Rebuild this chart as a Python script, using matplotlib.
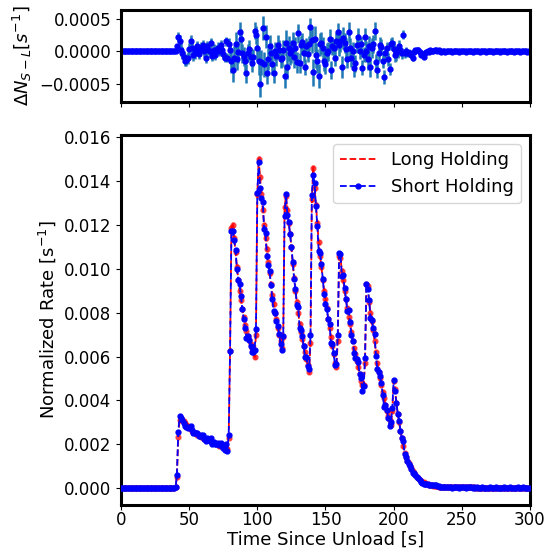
import numpy as np
import matplotlib
matplotlib.use("Agg")
import matplotlib.pyplot as plt

# time bins [s]
t = np.arange(0, 300)

# long-holding normalized rate, in units of 1e-5 s^-1, one value per second
long_e5 = (
    [0] * 40
    # 40 - 79
    + [3, 50, 235, 312, 318, 312, 305, 298, 290, 282,
       274, 268, 259, 257, 252, 250, 244, 240, 237, 234,
       231, 226, 225, 222, 219, 216, 215, 210, 207, 204,
       201, 199, 194, 194, 191, 189, 184, 185, 180, 230]
    # 80 - 119
    + [625, 1185, 1200, 1140, 1075, 1010, 950, 900, 858, 818,
       780, 745, 718, 695, 673, 655, 640, 628, 598, 700,
       1340, 1500, 1420, 1340, 1270, 1200, 1140, 1090, 1030, 980,
       930, 880, 840, 800, 770, 730, 700, 670, 640, 690]
    # 120 - 159
    + [1280, 1330, 1270, 1210, 1160, 1100, 1020, 960, 900, 850,
       800, 750, 710, 680, 650, 620, 590, 560, 530, 660,
       1320, 1460, 1370, 1290, 1210, 1120, 1060, 1010, 950, 900,
       860, 820, 770, 730, 690, 650, 610, 570, 550, 670]
    # 160 - 199
    + [1060, 1050, 990, 950, 900, 860, 820, 780, 750, 710,
       670, 640, 610, 580, 550, 520, 490, 470, 470, 570,
       930, 920, 850, 800, 760, 720, 670, 620, 570, 530,
       500, 470, 440, 410, 380, 350, 330, 310, 290, 350]
    # 200 - 239
    + [490, 450, 390, 340, 300, 260, 230, 190, 160, 140,
       125, 113, 102, 90, 78, 68, 58, 50, 44, 38,
       33, 29, 26, 23, 20, 18, 16, 14, 12, 11,
       10, 9, 8, 7, 6, 6, 5, 5, 4, 4]
    + [3] * 20 + [2] * 40
)

# short minus long, in units of 1e-5 s^-1
diff_e5 = (
    [0] * 40
    # 40 - 79
    + [0, 8, 22, 16, 3, -2, -8, -14, -13, -10,
       4, 16, 6, -5, -2, 3, 8, -4, 2, 6,
       10, 0, -10, 8, 2, 0, 13, -7, 3, -5,
       2, 6, 1, 10, 3, -4, -10, 16, -10, 12]
    # 80 - 119
    + [2, -14, -28, -10, 12, -12, -1, 30, 19, -3,
       -8, -15, -34, -3, 4, -8, -18, -9, 32, 25,
       6, -15, -50, -17, 36, -20, 23, -33, -12, 8,
       -3, -20, -33, 0, -7, 10, 3, -12, -10, 3]
    # 120 - 159
    + [-38, 13, -24, 5, -3, 0, 13, -8, 6, -17,
       28, -18, 10, 15, -2, -24, 8, -4, 12, 37,
       18, -32, 19, -6, -15, -38, 11, 13, 5, -14,
       -19, -2, 0, 19, -29, 8, 5, -10, 16, 30]
    # 160 - 199
    + [10, 16, -24, 21, 13, 4, -11, 30, 6, -10,
       0, -25, -18, 10, 23, 0, 11, -25, -5, 23,
       0, -12, 8, -24, 5, 11, 32, -17, -28, -2,
       10, 7, -14, -40, -3, 5, -12, -27, 11, 13]
    # 200 - 239
    + [4, -6, -3, 0, 8, 2, -3, 26, -3, 1,
       -3, -2, -3, -5, -10, -1, 2, 2, 3, -1,
       -6, -4, -8, -3, -1, 1, -1, 2, 0, 1,
       2, 3, 1, 3, 0, -1, 1, 0, -1, 1]
    + [0, 1, 0, -1, 0, 1, 0, 0, -1, 0] * 6
)

# uncertainty of the difference, in units of 1e-5 s^-1
err_e5 = (
    [1] * 40
    + [1, 4, 8, 10, 10, 9, 9, 9, 9, 9,
       9, 9, 9, 9, 9, 8, 8, 8, 8, 8,
       8, 8, 8, 8, 8, 8, 8, 8, 8, 8,
       8, 8, 8, 7, 7, 7, 7, 7, 7, 8]
    + [13, 19, 19, 18, 18, 17, 17, 16, 16, 15,
       15, 15, 14, 14, 14, 14, 14, 13, 13, 14,
       20, 21, 20, 20, 19, 19, 18, 18, 17, 17,
       16, 16, 16, 15, 15, 15, 14, 14, 14, 14]
    + [19, 20, 19, 19, 18, 18, 17, 17, 16, 16,
       15, 15, 14, 14, 14, 13, 13, 13, 12, 14,
       20, 21, 20, 19, 19, 18, 18, 17, 17, 16,
       16, 15, 15, 15, 14, 14, 13, 13, 13, 14]
    + [17, 17, 17, 17, 16, 16, 15, 15, 15, 14,
       14, 14, 13, 13, 13, 12, 12, 12, 12, 13,
       16, 16, 16, 15, 15, 14, 14, 13, 13, 12,
       12, 12, 11, 11, 10, 10, 10, 9, 9, 10]
    + [12, 11, 11, 10, 9, 9, 8, 7, 7, 6,
       6, 6, 5, 5, 5, 4, 4, 4, 4, 3,
       3, 3, 3, 3, 2, 2, 2, 2, 2, 2,
       2, 2, 2, 1, 1, 1, 1, 1, 1, 1]
    + [1] * 60
)

rate_long = np.array(long_e5) * 1e-5
diff = np.array(diff_e5) * 1e-5
diff_err = np.array(err_e5) * 1e-5
rate_short = rate_long + diff
err_long = diff_err * 0.7

fig = plt.figure(figsize=(5.47, 5.51), dpi=100)
ax_top = fig.add_axes([0.2212, 0.8149, 0.7477, 0.1670])
ax = fig.add_axes([0.2212, 0.0835, 0.7477, 0.6715], sharex=ax_top)

# top: difference
ax_top.errorbar(t, diff, yerr=diff_err, fmt=".", color="blue", ms=7,
                ecolor="tab:blue", elinewidth=1.8)
ax_top.set_ylim(-0.00078, 0.00064)
ax_top.set_yticks([-0.0005, 0.0, 0.0005])
ax_top.set_ylabel(r"$\Delta N_{S-L} [s^{-1}]$", fontsize=13)
ax_top.tick_params(labelbottom=False, labelsize=12)

# bottom: both rates
ax.errorbar(t, rate_long, yerr=err_long, fmt="none", ecolor="red",
            elinewidth=1.8, alpha=0.6, zorder=1)
ax.plot(t, rate_long, ".", color="red", ms=7, alpha=0.6, zorder=1)
ax.plot(t, rate_long, "--", color="red", lw=1.3, label="Long Holding",
        zorder=2)
ax.plot(t, rate_short, "--", color="blue", marker=".", ms=7, lw=1.3,
        label="Short Holding", zorder=3)
ax.set_xlim(0, 300)
ax.set_ylim(-0.00077, 0.0161)
ax.set_yticks(np.arange(0, 0.0161, 0.002))
ax.set_xlabel("Time Since Unload [s]", fontsize=13, labelpad=1)
ax.set_ylabel(r"Normalized Rate [s$^{-1}$]", fontsize=13)
ax.tick_params(labelsize=12)
ax.tick_params(axis="x", pad=1)
ax.legend(loc="upper right", fontsize=13)

for a in (ax_top, ax):
    for s in a.spines.values():
        s.set_linewidth(2.2)

fig.savefig("out.png", dpi=100)
